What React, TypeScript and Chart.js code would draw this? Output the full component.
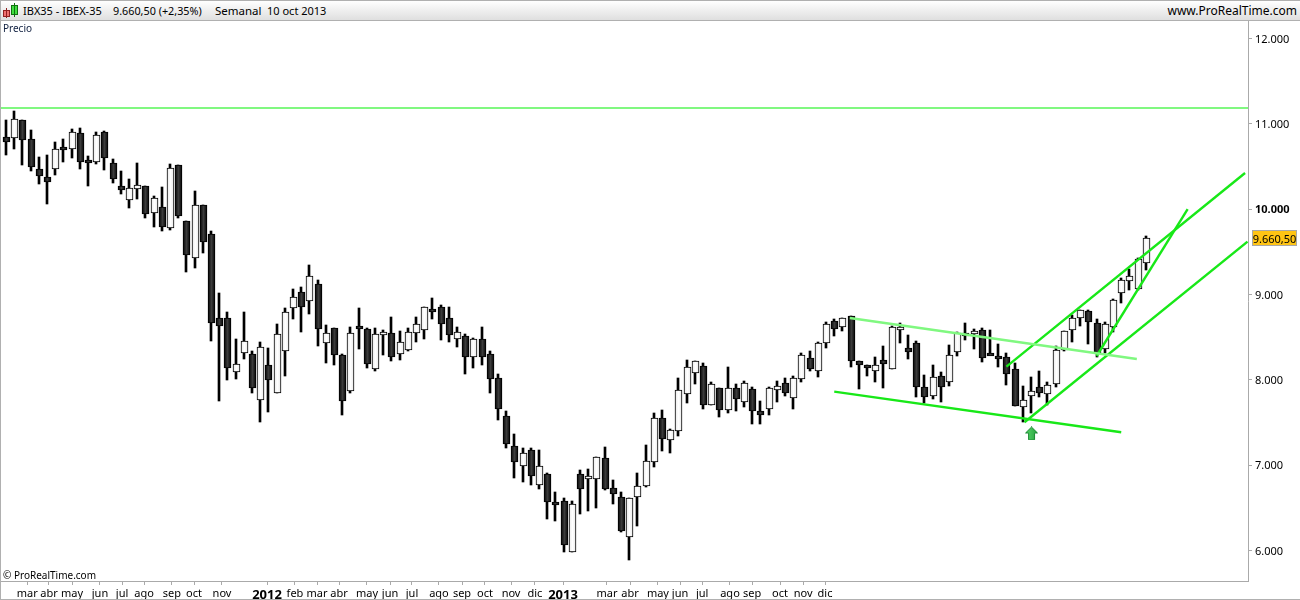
import React, { useEffect, useRef } from "react";
import { Chart, registerables } from "chart.js";

Chart.register(...registerables);

const opens = [10844,10833,11047,10821,10469,10375,10469,10727,10704,10891,10575,10559,10903,10540,10270,10106,10235,10270,9954,10024,9778,10520,9860,9434,10047,9707,8723,8723,8090,8313,8301,7762,8172,7844,8336,8840,9028,8922,9121,8430,8606,8289,7875,8637,8594,8125,8535,8547,8309,8356,8547,8582,8828,8852,8723,8477,8512,8266,8477,8301,8020,7574,7223,6988,7176,6765,6894,6566,6578,5988,6894,6848,6836,7082,6730,6625,6156,6625,6754,7035,7551,7293,7398,7832,8078,8160,7703,7902,7645,7902,7738,7891,7633,7656,7879,7961,7785,8008,8254,8102,8430,8688,8617,8750,8219,8172,8102,8230,8125,8594,8371,8430,7914,7809,8043,7973,8324,8547,8547,8582,8313,8278,8266,8125,7680,7809,7914,7832,7949,8348,8582,8723,8805,8664,8360,8617,9016,9157,9063,9368];
const closes = [10793,11055,10809,10493,10387,10317,10704,10715,10903,10551,10563,10868,10598,10352,10223,10247,10282,9942,10129,9797,10481,9926,9469,10047,9621,8664,8637,8137,8184,8453,7902,8383,7996,8535,8793,8969,8852,9215,8594,8547,8297,7758,8547,8625,8192,8535,8559,8274,8442,8559,8653,8852,8793,8653,8524,8559,8274,8477,8274,8008,7656,7246,7035,7140,6871,6988,6566,6543,6062,6543,6718,6871,7094,6718,6660,6234,6613,6754,7047,7551,7305,7410,7879,8148,8219,7703,7949,7645,7902,7774,7961,7633,7586,7902,7926,7844,8020,8289,8125,8430,8653,8594,8723,8219,8172,8148,8172,8184,8617,8617,8324,7914,7797,8031,7914,8289,8547,8535,8570,8254,8301,8266,8066,7691,7762,7867,7844,7938,8348,8570,8723,8817,8676,8313,8653,8934,9168,9215,9414,9660.5];
const highs = [11047,11153,11047,10930,10614,10637,10786,10821,10942,10954,10626,10907,10915,10586,10450,10352,10540,10270,10153,10262,10532,10520,9860,10211,10047,9746,9016,8793,8477,8793,8336,8442,8371,8653,8840,9063,9086,9344,9168,8641,8606,8301,8617,8840,8606,8606,8586,8735,8570,8606,8735,8852,8957,8875,8852,8617,8535,8488,8617,8336,8066,7633,7363,7199,7199,7176,6906,6683,6613,6578,6941,6953,7094,7211,6824,6683,6613,6906,7234,7609,7645,7422,8020,8230,8219,8195,7973,7902,8148,7949,7984,7914,7750,7914,7984,8020,8043,8313,8336,8442,8676,8711,8723,8750,8219,8172,8266,8395,8629,8664,8524,8453,8055,8172,8090,8407,8559,8664,8594,8606,8582,8418,8313,8195,7926,8031,8102,7973,8395,8570,8758,8817,8817,8711,8676,8946,9192,9297,9426,9684];
const lows = [10637,10708,10520,10450,10301,10063,10403,10555,10602,10473,10274,10532,10461,10309,10180,10016,10122,9899,9793,9746,9754,9899,9266,9313,9489,8461,7754,8000,8012,8246,7848,7508,7625,7844,8047,8715,8563,8774,8399,8199,8176,7590,7852,8363,8145,8109,8293,8223,8238,8344,8449,8485,8719,8473,8449,8391,8074,8145,8176,7852,7531,7207,6851,6808,6773,6726,6375,6351,5988,5980,6433,6469,6504,6707,6550,6222,5894,6293,6742,6984,7172,7148,7347,7727,7949,7664,7703,7563,7617,7641,7680,7488,7480,7594,7746,7809,7664,7973,8102,8031,8371,8512,8570,8148,7891,8043,7973,7902,8125,8430,8242,7797,7727,7774,7738,7926,8278,8465,8360,8207,8289,8148,7941,7691,7504,7609,7797,7703,7914,8336,8442,8629,8418,8266,8321,8559,8907,9051,9051,9286];

const lastPrice = 9660.5;
const yTicks = [6000, 7000, 8000, 9000, 10000, 11000, 12000];
const monthLabels = ["mar","abr","may","jun","jul","ago","sep","oct","nov","2012","feb","mar","abr","may","jun","jul","ago","sep","oct","nov","dic","2013","mar","abr","may","jun","jul","ago","sep","oct","nov","dic"];
const monthPositions = [2.6,5.24,8.05,11.46,14.15,16.83,20.24,22.93,26.34,31.83,35.24,37.93,40.61,44.02,46.83,49.51,52.8,55.61,58.41,61.59,64.5,67.93,73.29,76.1,79.5,82.2,84.9,88.29,90.98,94.39,97.2,99.88];

const resistance = [{ x: -1, y: 11188 }, { x: 152, y: 11188 }];
const channelTopLight = [{ x: 102.9, y: 8727 }, { x: 137.9, y: 8246 }];
const channelBottom = [{ x: 101.0, y: 7863 }, { x: 136.0, y: 7387 }];
const riseUpper = [{ x: 122.0, y: 8156 }, { x: 151.1, y: 10426 }];
const riseLower = [{ x: 124.2, y: 7504 }, { x: 151.4, y: 9621 }];
const riseSteep = [{ x: 133.0, y: 8281 }, { x: 144.1, y: 10001 }];
const arrowMark = [{ x: 125.06, y: 7373 }];

const BRIGHT = "#18e818";
const LIGHT = "#80f880";
const FONT = "'Noto Sans', Arial, sans-serif";

function makeArrow(): HTMLCanvasElement {
  const c = document.createElement("canvas");
  c.width = 13;
  c.height = 14;
  const g = c.getContext("2d")!;
  g.beginPath();
  g.moveTo(6.5, 0.5);
  g.lineTo(12.5, 6.5);
  g.lineTo(9.5, 6.5);
  g.lineTo(9.5, 13.5);
  g.lineTo(3.5, 13.5);
  g.lineTo(3.5, 6.5);
  g.lineTo(0.5, 6.5);
  g.closePath();
  const fill = g.createLinearGradient(0, 0, 13, 0);
  fill.addColorStop(0, "#58d868");
  fill.addColorStop(1, "#28a040");
  g.fillStyle = fill;
  g.fill();
  g.strokeStyle = "#1c8c34";
  g.lineWidth = 1;
  g.stroke();
  return c;
}

const snapPlugin = {
  id: "snap",
  beforeDatasetsDraw(chart: any) {
    const xs = chart.scales.x;
    const g = chart.ctx;
    chart.data.datasets.forEach((ds: any, di: number) => {
      if (ds.label !== "body" && ds.label !== "wick") return;
      const meta = chart.getDatasetMeta(di);
      meta.data.forEach((el: any, i: number) => {
        const px = Math.round(xs.getPixelForValue(i));
        el.x = ds.label === "body" ? px + 0.5 : px;
        const top = Math.round(Math.min(el.y, el.base));
        let bot = Math.round(Math.max(el.y, el.base));
        if (ds.label === "body" && bot - top < 3) bot = top + 3;
        el.y = top;
        el.base = bot;
        el.height = bot - top;
        if (ds.label === "body") {
          const up = closes[i] > opens[i];
          const grad = g.createLinearGradient(el.x - 3, 0, el.x + 3, 0);
          grad.addColorStop(0, up ? "#ececec" : "#0c0c0c");
          grad.addColorStop(0.5, up ? "#ffffff" : "#3c3c3c");
          grad.addColorStop(1, up ? "#ececec" : "#0c0c0c");
          el.options = { ...el.options, backgroundColor: grad };
        }
      });
    });
  },
};

const badgePlugin = {
  id: "badge",
  afterDraw(chart: any) {
    const g = chart.ctx;
    const y = Math.round(chart.scales.y.getPixelForValue(lastPrice));
    const x0 = chart.chartArea.right + 4;
    g.save();
    g.fillStyle = "#ffc414";
    g.fillRect(x0, y - 8, 45, 16);
    g.strokeStyle = "#a8a8a8";
    g.lineWidth = 1;
    g.strokeRect(x0 + 0.5, y - 7.5, 44, 15);
    g.fillStyle = "#000";
    g.font = `11px ${FONT}`;
    g.textAlign = "center";
    g.textBaseline = "middle";
    g.fillText("9.660,50", x0 + 22.5, y + 1.5);
    g.restore();
  },
};

function fmt(v: number): string {
  return String(v).replace(/\B(?=(\d{3})+$)/g, ".");
}

export default function App() {
  const ref = useRef<HTMLCanvasElement>(null);
  useEffect(() => {
    const ctx = ref.current!.getContext("2d")!;
    const idx = opens.map((_, i) => i);
    const line = (data: any[], color: string, width = 2.4) => ({
      type: "line" as const,
      data,
      borderColor: color,
      borderWidth: width,
      pointRadius: 0,
      order: 0,
    });
    const chart = new Chart(ctx, {
      type: "bar",
      data: {
        datasets: [
          line(resistance, LIGHT, 2),
          line(channelTopLight, LIGHT),
          line(channelBottom, BRIGHT),
          line(riseUpper, BRIGHT),
          line(riseLower, BRIGHT),
          line(riseSteep, BRIGHT),
          {
            type: "scatter" as const,
            data: arrowMark,
            pointStyle: makeArrow(),
            pointRadius: 7,
            order: 0,
          },
          {
            label: "body",
            data: idx.map((i) => ({ x: i, y: [opens[i], closes[i]] })),
            barThickness: 7,
            grouped: false,
            borderWidth: 1,
            borderSkipped: false,
            borderColor: "#000",
            backgroundColor: "#242424",
            order: 1,
          },
          {
            label: "wick",
            data: idx.map((i) => ({ x: i, y: [lows[i], highs[i]] })),
            barThickness: 2,
            grouped: false,
            borderWidth: 0,
            backgroundColor: "#000",
            order: 2,
          },
        ] as any,
      },
      options: {
        responsive: false,
        animation: false,
        events: [],
        layout: { autoPadding: false, padding: { top: 21, left: 1, right: 0, bottom: 1 } },
        plugins: { legend: { display: false }, tooltip: { enabled: false } },
        scales: {
          x: {
            type: "linear",
            offset: false,
            min: -0.61,
            max: 151.46,
            grid: {
              offset: false,
              drawOnChartArea: false,
              drawTicks: true,
              tickLength: 4,
              color: "#aaaaaa",
            },
            border: { color: "#aaaaaa" },
            afterBuildTicks(s: any) {
              s.ticks = monthPositions.map((v) => ({ value: v }));
            },
            afterFit(s: any) {
              s.height = 18;
              s.paddingLeft = 0;
              s.paddingRight = 0;
            },
            ticks: {
              autoSkip: false,
              maxRotation: 0,
              minRotation: 0,
              padding: 2,
              color: "#000",
              callback: (_v: any, i: number) => monthLabels[i],
              font: (c: any) =>
                /^\d/.test(monthLabels[c.index] ?? "")
                  ? { family: FONT, size: 13, weight: "bold" }
                  : { family: FONT, size: 11 },
            },
          },
          y: {
            type: "linear",
            position: "right",
            min: 5644,
            max: 12207,
            grid: {
              drawOnChartArea: false,
              drawTicks: true,
              tickLength: 4,
              color: "#aaaaaa",
            },
            border: { color: "#aaaaaa" },
            afterBuildTicks(s: any) {
              s.ticks = yTicks.map((v) => ({ value: v }));
            },
            afterFit(s: any) {
              s.width = 52;
            },
            ticks: {
              padding: 3,
              labelOffset: 1,
              color: "#000",
              callback: (v: any) => fmt(Number(v)),
              font: (c: any) =>
                c.tick?.value === 10000
                  ? { family: FONT, size: 11, weight: "bold" }
                  : { family: FONT, size: 11 },
            },
          },
        },
      } as any,
      plugins: [snapPlugin, badgePlugin],
    });
    return () => chart.destroy();
  }, []);

  const text: React.CSSProperties = {
    position: "absolute",
    font: `12px ${FONT}`,
    color: "#000",
    whiteSpace: "pre",
    lineHeight: "14px",
  };
  const small: React.CSSProperties = { ...text, font: `10px ${FONT}`, lineHeight: "14px" };
  return (
    <div style={{ position: "absolute", left: 0, top: 0, width: 1300, height: 600, background: "#fff", overflow: "hidden" }}>
      <canvas ref={ref} width={1300} height={600} style={{ position: "absolute", left: 0, top: 0, display: "block" }} />
      <div style={{ position: "absolute", left: 0, top: 0, width: 1300, height: 21, boxSizing: "border-box", borderTop: "1px solid #b0b0b0", borderBottom: "1px solid #b0b0b0", background: "linear-gradient(#ffffff,#f2f2f2 40%,#dfdfdf)" }} />
      <div style={{ position: "absolute", left: 0, top: 0, width: 1, height: 600, background: "#b0b0b0" }} />
      <div style={{ position: "absolute", left: 0, top: 599, width: 1300, height: 1, background: "#b0b0b0" }} />
      <svg style={{ position: "absolute", left: 2, top: 2 }} width={18} height={17}>
        <rect x={1.5} y={8.5} width={6} height={6} fill="#f07070" stroke="#902020" />
        <line x1={4.5} y1={6} x2={4.5} y2={16} stroke="#902020" />
        <rect x={9.5} y={3.5} width={6} height={9} fill="#40e040" stroke="#107010" />
        <line x1={12.5} y1={1} x2={12.5} y2={15} stroke="#107010" />
      </svg>
      <div style={{ ...text, left: 23, top: 4, fontSize: 11 }}>IBX35 - IBEX-35</div>
      <div style={{ ...text, left: 113, top: 4, fontSize: 10.8 }}>9.660,50 (+2,35%)</div>
      <div style={{ ...text, left: 215, top: 4, fontSize: 11.5 }}>Semanal</div>
      <div style={{ ...text, left: 267, top: 4, fontSize: 11 }}>10 oct 2013</div>
      <div style={{ ...text, right: 3, top: 4 }}>www.ProRealTime.com</div>
      <div style={{ ...small, left: 3, top: 21, color: "#102040" }}>Precio</div>
      <div style={{ ...small, left: 3, top: 568 }}>© ProRealTime.com</div>
    </div>
  );
}
